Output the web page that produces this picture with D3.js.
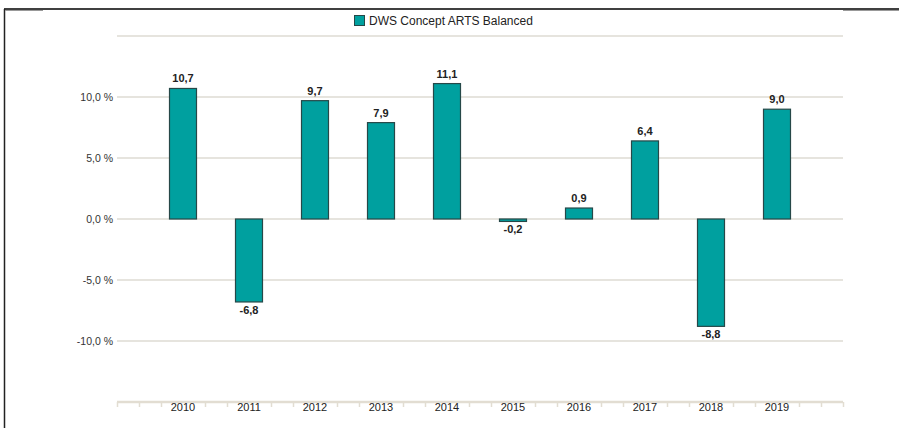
<!DOCTYPE html>
<html lang="en">
<head>
  <meta charset="UTF-8" />
  <title>DWS Concept ARTS Balanced</title>
  <script src="https://d3js.org/d3.v7.min.js"></script>
  <style>
    body { margin: 0; background: #fff; }
    svg { display: block; font-family: "Liberation Sans", Arial, sans-serif; }
  </style>
</head>
<body>
  <svg id="chart" width="899" height="428"></svg>
  <script>
    // data
    const years = [2010, 2011, 2012, 2013, 2014, 2015, 2016, 2017, 2018, 2019];
    const returns = [10.7, -6.8, 9.7, 7.9, 11.1, -0.2, 0.9, 6.4, -8.8, 9.0];
    const yTicks = [15, 10, 5, 0, -5, -10];
    const yTickLabels = ["", "10,0 %", "5,0 %", "0,0 %", "-5,0 %", "-10,0 %"];
    const seriesName = "DWS Concept ARTS Balanced";

    const svg = d3.select("#chart");
    const fill = "#00a09f", stroke = "#264848";

    // frame
    svg.append("line").attr("x1", 4).attr("x2", 899).attr("y1", 9).attr("y2", 9)
      .attr("stroke", "#000").attr("stroke-width", 1.5);
    svg.append("line").attr("x1", 4.5).attr("x2", 4.5).attr("y1", 9).attr("y2", 428)
      .attr("stroke", "#222").attr("stroke-width", 1.5);
    svg.append("line").attr("x1", 5).attr("x2", 43).attr("y1", 10.5).attr("y2", 10.5)
      .attr("stroke", "#999");
    svg.append("line").attr("x1", 843).attr("x2", 899).attr("y1", 10.5).attr("y2", 10.5)
      .attr("stroke", "#999");

    const x = d3.scaleLinear().domain([2009, 2020]).range([117, 843]);
    const y = d3.scaleLinear().domain([-15, 15]).range([402, 36]);

    // grid
    svg.append("g").selectAll("line").data(yTicks).enter().append("line")
      .attr("x1", x(2009)).attr("x2", x(2020))
      .attr("y1", d => y(d)).attr("y2", d => y(d))
      .attr("stroke", "#dedbd3").attr("stroke-width", 1.3);

    // y labels
    svg.append("g").selectAll("text").data(yTicks).enter().append("text")
      .attr("x", 113).attr("y", d => y(d) + 4)
      .attr("text-anchor", "end")
      .attr("font-size", "10.5px").attr("fill", "#333")
      .text((d, i) => yTickLabels[i]);

    // bottom axis
    const axis = svg.append("g");
    axis.append("line").attr("x1", x(2009)).attr("x2", x(2020))
      .attr("y1", 402).attr("y2", 402).attr("stroke", "#e2ddd2").attr("stroke-width", 2.5);
    const minor = d3.range(0, 34).map(i => 2009 + i / 3).filter((d, i) => i % 3 !== 0 || i === 0 || i === 33);
    axis.selectAll(".tick").data(minor).enter().append("line")
      .attr("x1", d => Math.round(x(d)) + 0.5).attr("x2", d => Math.round(x(d)) + 0.5)
      .attr("y1", 402).attr("y2", 407)
      .attr("stroke", "#e2ddd2").attr("stroke-width", 1.5);
    axis.selectAll("text").data(years).enter().append("text")
      .attr("x", d => x(d)).attr("y", 411)
      .attr("text-anchor", "middle").attr("font-size", "11px").attr("fill", "#222")
      .text(d => d);

    // bars
    const bw = 27;
    svg.append("g").selectAll("rect").data(returns).enter().append("rect")
      .attr("x", (d, i) => x(years[i]) - bw / 2)
      .attr("y", d => y(Math.max(0, d)))
      .attr("width", bw)
      .attr("height", d => Math.abs(y(d) - y(0)))
      .attr("fill", fill).attr("stroke", stroke).attr("stroke-width", 1.2);

    // value labels
    svg.append("g").selectAll("text").data(returns).enter().append("text")
      .attr("x", (d, i) => x(years[i]))
      .attr("y", d => d >= 0 ? y(d) - 6 : y(d) + 12)
      .attr("text-anchor", "middle").attr("font-size", "11px")
      .attr("font-weight", "bold").attr("fill", "#222")
      .text(d => d.toFixed(1).replace(".", ","));

    // legend
    svg.append("rect").attr("x", 354.5).attr("y", 15.5).attr("width", 10).attr("height", 10)
      .attr("fill", fill).attr("stroke", stroke);
    svg.append("text").attr("x", 369).attr("y", 25)
      .attr("font-size", "12px").attr("fill", "#222").text(seriesName);
  </script>
</body>
</html>
